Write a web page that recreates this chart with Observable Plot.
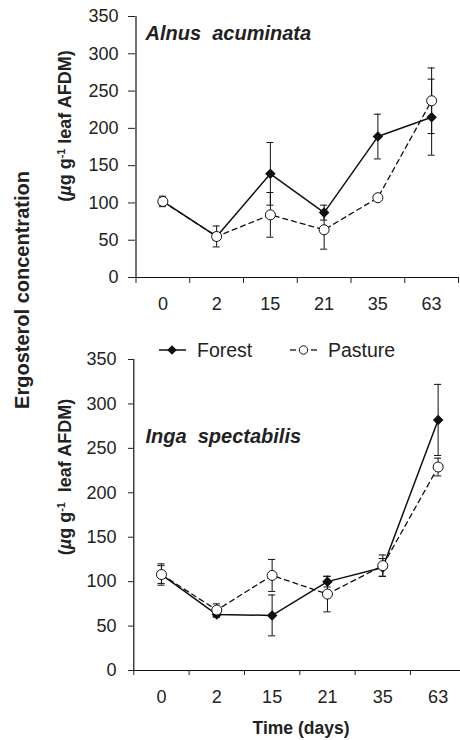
<!DOCTYPE html>
<html>
<head>
<meta charset="utf-8">
<script src="https://cdn.jsdelivr.net/npm/d3@7"></script>
<script src="https://cdn.jsdelivr.net/npm/@observablehq/plot@0.6"></script>
<style>
  html, body { margin: 0; padding: 0; background: #fff; }
  #wrap { position: relative; width: 460px; height: 740px; overflow: hidden; font-family: "Liberation Sans", Arial, sans-serif; color: #222; }
  .abs { position: absolute; }
  .rot { position: absolute; white-space: nowrap; transform: translate(-50%, -50%) rotate(-90deg); line-height: 1; font-weight: bold; }
  .sup { font-size: 0.6em; position: relative; top: -0.6em; }
</style>
</head>
<body>
<div id="wrap"></div>
<script>
const days = ["0", "2", "15", "21", "35", "63"];
const yTicks = [0, 50, 100, 150, 200, 250, 300, 350];

const alnusForest    = [102, 55, 139, 87, 189, 215];
const alnusForestSE  = [7, 5, 42, 10, 30, 51];
const alnusPasture   = [102, 55, 84, 64, 107, 237];
const alnusPastureSE = [5, 14, 30, 26, 4, 44];

const ingaForest     = [108, 63, 62, 100, 116, 282];
const ingaForestSE   = [10, 3, 23, 6, 10, 40];
const ingaPasture    = [108, 68, 107, 86, 118, 229];
const ingaPastureSE  = [12, 7, 18, 20, 12, 10];

const rows = (vals, se) => vals.map((v, i) => ({i, day: days[i], v, lo: v - se[i], hi: v + se[i]}));
const caps = (data) => data.flatMap(d => [{i: d.i, y: d.lo}, {i: d.i, y: d.hi}]);

function panel({forest, pasture, height, marginLeft, marginTop, marginBottom, marginRight, xRange, title, titleDx, titleDy, yTickSize, yTickPad, xTickSize}) {
  const ink = "#111";
  const errMarks = (data) => [
    Plot.ruleX(data, {x: "i", y1: "lo", y2: "hi", stroke: ink, strokeWidth: 1}),
    Plot.ruleY(caps(data), {x1: d => d.i - 0.065, x2: d => d.i + 0.065, y: "y", stroke: ink, strokeWidth: 1})
  ];
  return Plot.plot({
    width: 460, height, marginLeft, marginTop, marginBottom, marginRight,
    style: {fontFamily: "Liberation Sans, Arial, sans-serif", color: "#222", background: "transparent"},
    x: {domain: [-0.5, 5.5], range: xRange},
    y: {domain: [0, 350]},
    marks: [
      Plot.ruleY([0], {stroke: ink, strokeWidth: 1.2}),
      Plot.ruleX([-0.5], {stroke: ink, strokeWidth: 1.2}),
      Plot.axisY({ticks: yTicks, tickSize: yTickSize, tickPadding: yTickPad, fontSize: 18, label: null}),
      Plot.axisX({ticks: d3.range(-0.5, 6, 1), tickSize: xTickSize, tickFormat: () => "", label: null}),
      Plot.axisX({ticks: d3.range(0, 6), tickSize: 0, tickPadding: 20, tickFormat: i => days[i], fontSize: 18, label: null}),
      ...errMarks(forest),
      ...errMarks(pasture),
      Plot.line(forest, {x: "i", y: "v", stroke: ink, strokeWidth: 1.5}),
      Plot.line(pasture, {x: "i", y: "v", stroke: ink, strokeWidth: 1.3, strokeDasharray: "5,4"}),
      Plot.dot(forest, {x: "i", y: "v", symbol: "diamond2", r: 3.8, fill: ink, stroke: ink}),
      Plot.dot(pasture, {x: "i", y: "v", symbol: "circle", r: 5, fill: "white", stroke: ink, strokeWidth: 1}),
      Plot.text([title], {frameAnchor: "top-left", dx: titleDx, dy: titleDy, lineAnchor: "bottom", textAnchor: "start",
        fontSize: 20, fontWeight: "bold", fontStyle: "italic", fill: "#222"})
    ]
  });
}

const wrap = document.getElementById("wrap");

const p1 = panel({
  forest: rows(alnusForest, alnusForestSE), pasture: rows(alnusPasture, alnusPastureSE),
  height: 318, marginLeft: 135, marginTop: 16, marginBottom: 41, marginRight: 2,
  xRange: [135.5, 458], title: "Alnus  acuminata", titleDx: 10, titleDy: 23.5,
  yTickSize: 7, yTickPad: 10, xTickSize: 6
});
p1.style.position = "absolute"; p1.style.left = "0px"; p1.style.top = "0px";
wrap.appendChild(p1);

const p2 = panel({
  forest: rows(ingaForest, ingaForestSE), pasture: rows(ingaPasture, ingaPastureSE),
  height: 400, marginLeft: 133, marginTop: 19, marginBottom: 70, marginRight: 0,
  xRange: [133.3, 465.3], title: "Inga  spectabilis", titleDx: 12, titleDy: 83,
  yTickSize: 5, yTickPad: 12, xTickSize: 5
});
p2.style.position = "absolute"; p2.style.left = "0px"; p2.style.top = "340px";
wrap.appendChild(p2);

// Legend
const legend = document.createElement("div");
legend.className = "abs";
legend.style.left = "0px"; legend.style.top = "336px";
legend.innerHTML = `<svg width="460" height="28" style="display:block;overflow:visible">
  <line x1="159" x2="186" y1="14" y2="14" stroke="#111" stroke-width="1.5"/>
  <path d="M172,9.2L176.8,14L172,18.8L167.2,14Z" fill="#111"/>
  <text x="197" y="21" font-size="19.5" fill="#222" font-family="Liberation Sans, Arial, sans-serif">Forest</text>
  <line x1="290" x2="296" y1="14" y2="14" stroke="#111" stroke-width="1.3"/>
  <line x1="311" x2="317" y1="14" y2="14" stroke="#111" stroke-width="1.3"/>
  <circle cx="303.5" cy="14" r="4.2" fill="white" stroke="#111" stroke-width="1"/>
  <text x="328" y="21" font-size="19.5" fill="#222" font-family="Liberation Sans, Arial, sans-serif">Pasture</text>
</svg>`;
wrap.appendChild(legend);

// Axis titles
function rotLabel(html, cx, cy, size) {
  const d = document.createElement("div");
  d.className = "rot";
  d.style.left = cx + "px"; d.style.top = cy + "px"; d.style.fontSize = size + "px";
  d.innerHTML = html;
  wrap.appendChild(d);
}
rotLabel("Ergosterol concentration", 22, 290, 20);
const unit = '(<i>µ</i>g g<span class="sup">-1</span> leaf AFDM)';
const unit2 = '(<i>µ</i>g g<span class="sup">-1</span>&nbsp; leaf AFDM)';
rotLabel(unit, 64.5, 126, 18);
rotLabel(unit2, 64.5, 477, 18);

const xt = document.createElement("div");
xt.className = "abs";
xt.style.left = "301px"; xt.style.top = "720px";
xt.style.transform = "translateX(-50%)";
xt.style.fontSize = "17.5px"; xt.style.fontWeight = "bold"; xt.style.lineHeight = "1"; xt.style.whiteSpace = "nowrap";
xt.textContent = "Time (days)";
wrap.appendChild(xt);
</script>
</body>
</html>
